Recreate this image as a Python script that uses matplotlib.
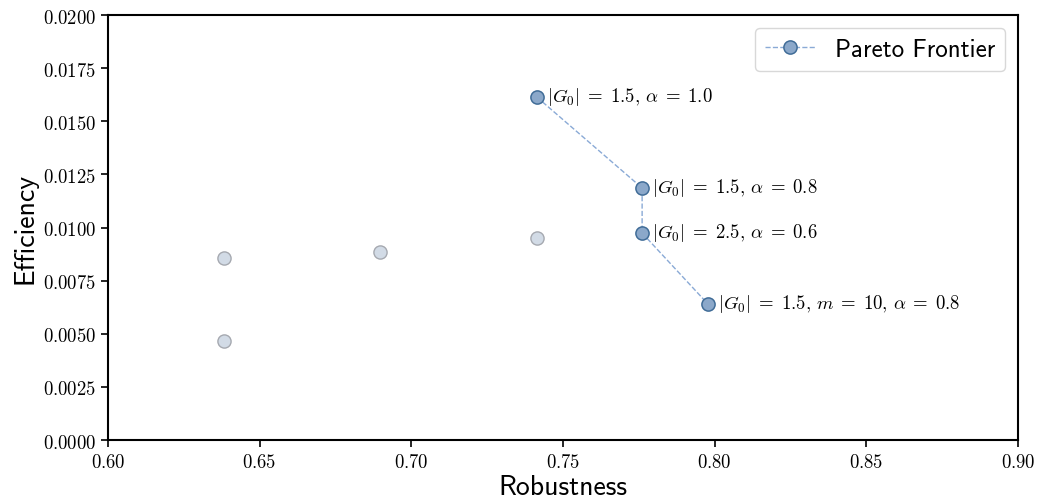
import matplotlib
matplotlib.use('Agg')
import matplotlib.pyplot as plt
from matplotlib.ticker import FuncFormatter

plt.rcParams['mathtext.fontset'] = 'cm'

# Pareto frontier configurations
pareto_robustness = [0.7414, 0.7761, 0.7761, 0.7978]
pareto_efficiency = [0.01614, 0.01186, 0.00974, 0.00640]
pareto_labels = [r'$|G_0|\;{=}\;1.5,\,\alpha\;{=}\;1.0$',
                 r'$|G_0|\;{=}\;1.5,\,\alpha\;{=}\;0.8$',
                 r'$|G_0|\;{=}\;2.5,\,\alpha\;{=}\;0.6$',
                 r'$|G_0|\;{=}\;1.5,\,m\;{=}\;10,\,\alpha\;{=}\;0.8$']

# Dominated configurations
other_robustness = [0.6382, 0.6382, 0.6897, 0.7414]
other_efficiency = [0.00856, 0.00466, 0.00885, 0.00950]

fig = plt.figure(figsize=(10.4, 5.02), dpi=100)
ax = fig.add_axes([0.1038, 0.1215, 0.875, 0.8465])

ax.plot(other_robustness, other_efficiency, 'o', markersize=9.5,
        markerfacecolor='#d2dbe6', markeredgecolor='#a6a9b0', markeredgewidth=1.0,
        linestyle='none')

ax.plot(pareto_robustness, pareto_efficiency, '--o', color='#8aaad6', linewidth=1.0,
        markersize=9.5, markerfacecolor='#8ba8ca', markeredgecolor='#416d98',
        markeredgewidth=1.1, label='Pareto Frontier')

for x, y, lab in zip(pareto_robustness, pareto_efficiency, pareto_labels):
    ax.annotate(lab, (x, y), xytext=(7, 1), textcoords='offset points',
                va='center', ha='left', fontsize=13.5)

ax.set_xlim(0.60, 0.90)
ax.set_ylim(0.0, 0.02)
ax.set_xticks([0.60, 0.65, 0.70, 0.75, 0.80, 0.85, 0.90])
ax.set_yticks([i * 0.0025 for i in range(9)])
ax.xaxis.set_major_formatter(FuncFormatter(lambda v, p: r'$%.2f$' % v))
ax.yaxis.set_major_formatter(FuncFormatter(lambda v, p: r'$%.4f$' % v))
ax.tick_params(labelsize=13.5, width=1.2, length=5)
for s in ax.spines.values():
    s.set_linewidth(1.5)

ax.set_xlabel('Robustness', fontfamily='cmss10', fontsize=20, labelpad=2)
ax.set_ylabel('Efficiency', fontfamily='cmss10', fontsize=20, labelpad=4)

leg = ax.legend(loc='upper right', prop={'family': 'cmss10', 'size': 18},
                fancybox=True, framealpha=1.0, borderpad=0.4, handlelength=2.0)
leg.get_frame().set_edgecolor('#d8d8d8')

fig.savefig('out.png', dpi=100)
